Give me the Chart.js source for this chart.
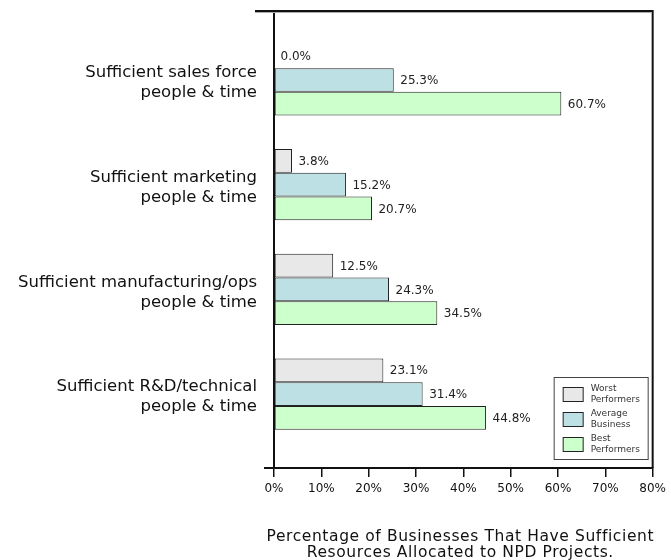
<!DOCTYPE html>
<html><head><meta charset="utf-8">
<script src="https://cdn.jsdelivr.net/npm/chart.js@4/dist/chart.umd.min.js"></script>
<style>html,body{margin:0;padding:0;background:#fff}#wrap{width:671px;height:560px}</style>
</head><body><div id="wrap"><canvas id="c" width="671" height="560"></canvas></div>
<script>
const categories = [
  ['Sufficient sales force', 'people & time'],
  ['Sufficient marketing', 'people & time'],
  ['Sufficient manufacturing/ops', 'people & time'],
  ['Sufficient R&D/technical', 'people & time']
];
const seriesNames = [['Worst', 'Performers'], ['Average', 'Business'], ['Best', 'Performers']];
const worst = [0.0, 3.8, 12.5, 23.1];
const average = [25.3, 15.2, 24.3, 31.4];
const best = [60.7, 20.7, 34.5, 44.8];
const xTicks = [0, 10, 20, 30, 40, 50, 60, 70, 80];
const axisTitle = ['Percentage of Businesses That Have Sufficient', 'Resources Allocated to NPD Projects.'];

const FONT = "'DejaVu Sans', Verdana, sans-serif";
const colors = ['#e8e8e8', '#bde0e4', '#ccffcc'];
const seriesValues = [worst, average, best];

const toPoints = arr => arr.map((v, i) => ({ x: v, y: i }));

const decor = {
  id: 'decor',
  afterDraw(chart) {
    const { ctx, chartArea: a } = chart;
    ctx.save();
    // frame extensions
    ctx.strokeStyle = '#111';
    ctx.lineWidth = 2;
    ctx.beginPath();
    ctx.moveTo(a.left - 19, a.top); ctx.lineTo(a.right + 1, a.top);
    ctx.moveTo(a.right, a.top); ctx.lineTo(a.right, a.bottom);
    ctx.moveTo(a.left - 10, a.bottom); ctx.lineTo(a.left, a.bottom);
    ctx.stroke();
    ctx.strokeStyle = '#aaa';
    ctx.lineWidth = 1;
    ctx.beginPath();
    ctx.moveTo(a.left - 19, a.top + 1.5); ctx.lineTo(a.right - 1, a.top + 1.5);
    ctx.stroke();

    // data labels
    ctx.font = '12px ' + FONT;
    ctx.fillStyle = '#222';
    ctx.textBaseline = 'middle';
    ctx.textAlign = 'left';
    chart.data.datasets.forEach((ds, di) => {
      const meta = chart.getDatasetMeta(di);
      meta.data.forEach((el, i) => {
        const v = seriesValues[di][i];
        ctx.fillText(v.toFixed(1) + '%', el.x + 6.5, el.y + 1);
      });
    });

    // legend
    const bx = a.right - 99, by = a.bottom - 91, bw = 94, bh = 82;
    ctx.fillStyle = '#fff';
    ctx.fillRect(bx, by, bw, bh);
    ctx.strokeStyle = '#444';
    ctx.lineWidth = 1;
    ctx.strokeRect(bx + 0.5, by + 0.5, bw, bh);
    ctx.font = '9px ' + FONT;
    seriesNames.forEach((lines, i) => {
      const sy = by + 10 + i * 25;
      ctx.fillStyle = colors[i];
      ctx.fillRect(bx + 9.5, sy + 0.5, 20, 14);
      ctx.strokeStyle = '#222';
      ctx.strokeRect(bx + 9.5, sy + 0.5, 20, 14);
      ctx.fillStyle = '#333';
      lines.forEach((t, j) => {
        ctx.fillText(t, bx + 37, sy + 2 + j * 11);
      });
    });

    // axis title
    ctx.font = '15.5px ' + FONT;
    ctx.fillStyle = '#111';
    ctx.textAlign = 'center';
    ctx.textBaseline = 'middle';
    if ('letterSpacing' in ctx) ctx.letterSpacing = '0.6px';
    const cx = (a.left + a.right) / 2 - 3;
    axisTitle.forEach((t, j) => ctx.fillText(t, cx, a.bottom + 69 + j * 16));
    ctx.restore();
  }
};

new Chart(document.getElementById('c'), {
  type: 'bar',
  data: {
    datasets: seriesNames.map((n, i) => ({
      label: n.join(' '),
      data: toPoints(seriesValues[i]),
      backgroundColor: colors[i],
      borderColor: '#222',
      borderWidth: 1,
      borderSkipped: false,
      categoryPercentage: 0.68,
      barPercentage: 1.0
    }))
  },
  options: {
    indexAxis: 'y',
    responsive: false,
    animation: false,
    layout: { padding: { top: 11, right: 18, left: 0, bottom: 0 } },
    plugins: { legend: { display: false }, tooltip: { enabled: false } },
    scales: {
      y: {
        type: 'linear',
        reverse: true,
        offset: false,
        min: -0.659,
        max: 3.706,
        afterBuildTicks: s => { s.ticks = categories.map((c, i) => ({ value: i })); },
        afterFit: s => { s.width = 274; s.paddingTop = 0; s.paddingBottom = 0; },
        grid: { display: false, drawTicks: false, offset: false },
        border: { display: true, color: '#111', width: 2 },
        ticks: {
          autoSkip: false,
          padding: 17,
          labelOffset: 3,
          color: '#111',
          font: { family: FONT, size: 16.5, lineHeight: 1.2 },
          callback: v => categories[v] || ''
        }
      },
      x: {
        type: 'linear',
        position: 'bottom',
        min: 0,
        max: 80,
        afterBuildTicks: s => { s.ticks = xTicks.map(v => ({ value: v })); },
        afterFit: s => { s.height = 92; },
        grid: { drawOnChartArea: false, drawTicks: true, tickLength: 9, color: '#111', lineWidth: 1.5 },
        border: { display: true, color: '#111', width: 2 },
        ticks: {
          padding: 5,
          color: '#111',
          font: { family: FONT, size: 12 },
          callback: v => v + '%'
        },
        title: { display: false }
      }
    }
  },
  plugins: [decor]
});
</script></body></html>
